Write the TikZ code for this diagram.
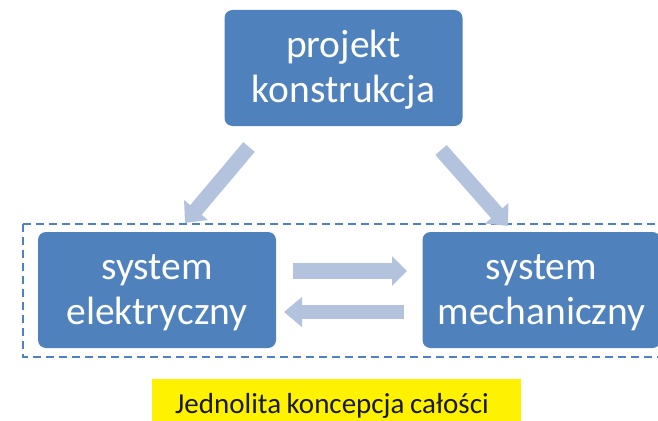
\documentclass[tikz,border=0pt]{standalone}
\usepackage{fontspec}
\setmainfont{Carlito}
\usetikzlibrary{arrows.meta}
\definecolor{boxblue}{HTML}{4F81BD}
\definecolor{flowblue}{HTML}{B3C3DE}
\definecolor{dashblue}{HTML}{4F81C6}
% fixed line heights so every block sets its two lines at the same place
\newcommand\hiStrut{\rule{0pt}{36pt}}
\newcommand\loStrut{\rule[-12pt]{0pt}{12pt}}
\tikzset{
  block/.style={fill=boxblue, rounded corners=8pt, minimum width=238pt,
    minimum height=116pt, text=white, align=center, inner sep=0pt,
    font=\fontsize{39.5}{45}\selectfont},
  flow/.style={draw=flowblue, line width=15pt,
    -{Triangle[width=30pt,length=17pt]}},
  groupframe/.style={draw=dashblue, line width=1.8pt, dash pattern=on 8pt off 5pt},
  banner/.style={fill=yellow, minimum width=369pt, minimum height=46pt, inner sep=0pt},
  bannertext/.style={inner sep=0pt, anchor=base, font=\fontsize{29}{34}\selectfont,
    text=black!90}
}
\begin{document}
\begin{tikzpicture}[x=1pt,y=-1pt]
\useasboundingbox (0,0) rectangle (658,420);

% dashed frame around the two systems
\draw[groupframe] (23,224) rectangle (700,357);

% blocks
\node[block] (proj) at (343.5,68) {\hiStrut projekt\\konstrukcja\loStrut};
\node[block] (elek) at (157,290) {\hiStrut system\\elektryczny\loStrut};
\node[block] (mech) at (541.5,290) {\hiStrut system\\mechaniczny\loStrut};

% arrow end points
\coordinate (p1) at (249,147);
\coordinate (e1) at (185,223);
\coordinate (p2) at (441,150);
\coordinate (m1) at (508,226);
\coordinate (em0) at (293,271);
\coordinate (em1) at (407,271);
\coordinate (me0) at (404,312);
\coordinate (me1) at (284,312);

\draw[flow] (p1) -- (e1);
\draw[flow] (p2) -- (m1);
\draw[flow, line width=16pt, -{Triangle[width=29pt,length=15pt]}] (em0) -- (em1);
\draw[flow, line width=14pt, -{Triangle[width=29pt,length=18pt]}] (me0) -- (me1);

% caption
\node[banner, anchor=north west] (caption) at (152,379) {};
\node[bannertext] (captiontext) at (332,413) {Jednolita\hspace{-1pt} koncepcja\hspace{-1pt} całości};
\end{tikzpicture}
\end{document}
